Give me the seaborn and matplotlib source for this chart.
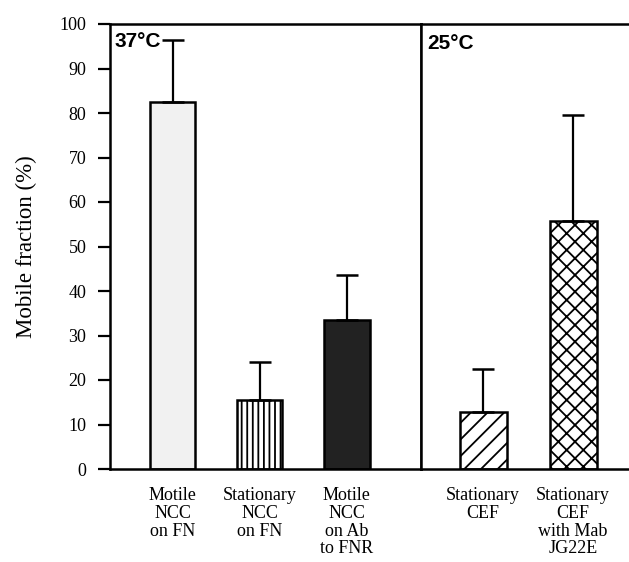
import pandas as pd
import matplotlib.pyplot as plt
import seaborn as sns

# ==========================================
# Values
# ==========================================

labels_37 = ["Motile\nNCC\non FN", "Stationary\nNCC\non FN", "Motile\nNCC\non Ab\nto FNR"]
mobile_37 = [82.5, 15.5, 33.5]
err_37 = [14.0, 8.5, 10.0]

labels_25 = ["Stationary\nCEF", "Stationary\nCEF\nwith Mab\nJG22E"]
mobile_25 = [12.8, 55.8]
err_25 = [9.7, 23.7]

yticks = [0, 10, 20, 30, 40, 50, 60, 70, 80, 90, 100]

# bar styles (face colour, hatch)
styles_37 = [("#f1f1f1", ""), ("white", "|||"), ("#222222", "")]
styles_25 = [("white", "//"), ("white", "xx")]

df37 = pd.DataFrame({"group": labels_37, "mobile": mobile_37})
df25 = pd.DataFrame({"group": labels_25, "mobile": mobile_25})

# ==========================================
# Plot
# ==========================================

sns.set_style("white")
plt.rcParams["font.family"] = ["Liberation Serif", "DejaVu Serif"]
plt.rcParams["hatch.linewidth"] = 1.3
plt.rcParams["text.color"] = "black"
plt.rcParams["axes.labelcolor"] = "black"
plt.rcParams["xtick.color"] = "black"
plt.rcParams["ytick.color"] = "black"

fig = plt.figure(figsize=(6.29, 5.62), dpi=100)
W, H = 629, 562
bottom = (H - 469) / H
height = 445 / H
ax1 = fig.add_axes([110 / W, bottom, 311 / W, height])
ax2 = fig.add_axes([421 / W, bottom, 208 / W, height])


def draw(ax, df, errs, styles):
    sns.barplot(data=df, x="group", y="mobile", ax=ax, color="white",
                width=0.52, edgecolor="black", linewidth=1.8, errorbar=None)
    for patch, (fc, hatch) in zip(ax.patches, styles):
        patch.set_facecolor(fc)
        patch.set_hatch(hatch)
    ax.errorbar(range(len(df)), df["mobile"], yerr=[[0] * len(errs), errs],
                fmt="none", ecolor="black", elinewidth=1.6, capsize=8,
                capthick=1.8)
    ax.set_ylim(0, 100)
    ax.set_xlabel("")
    ax.tick_params(axis="x", length=0, pad=13, labelsize=13)
    for t in ax.get_xticklabels():
        t.set_multialignment("center")
        t.set_linespacing(1.06)
    for s in ax.spines.values():
        s.set_color("black")
        s.set_linewidth(1.8)


draw(ax1, df37, err_37, styles_37)
draw(ax2, df25, err_25, styles_25)

ax1.set_xlim(-0.72, 2.85)
ax2.set_xlim(-0.69, 1.62)

ax1.set_yticks(yticks)
ax1.tick_params(axis="y", direction="out", length=9, width=1.6, pad=8,
                labelsize=13, left=True)
ax1.set_ylabel("Mobile fraction (%)", fontsize=16.5, labelpad=16)

ax2.set_yticks([])
ax2.set_ylabel("")
ax2.spines["right"].set_visible(False)

ax1.text(0.014, 0.983, "37°C", transform=ax1.transAxes, ha="left", va="top",
         fontsize=15, fontweight="bold", family=["Liberation Sans", "DejaVu Sans"])
ax2.text(0.03, 0.978, "25°C", transform=ax2.transAxes, ha="left", va="top",
         fontsize=15, fontweight="bold", family=["Liberation Sans", "DejaVu Sans"])

plt.savefig("out.png", dpi=100)
